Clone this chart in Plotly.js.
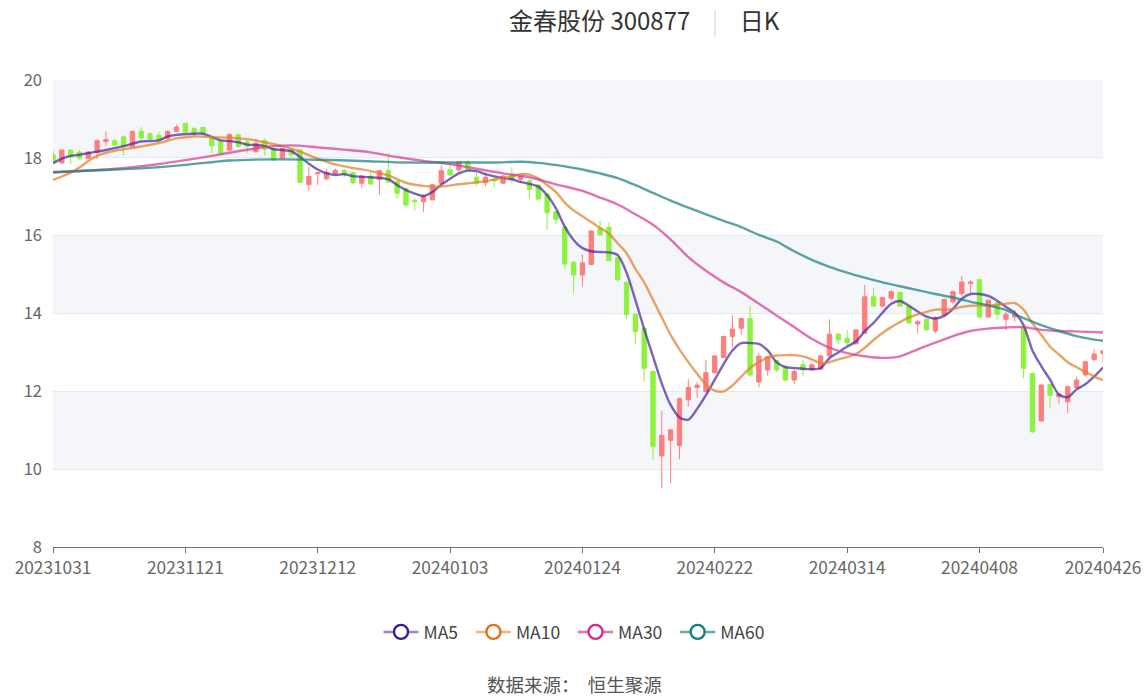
<!DOCTYPE html>
<html>
<head>
<meta charset="utf-8">
<script src="https://cdn.plot.ly/plotly-3.0.1.min.js"></script>
<style>
  html, body { margin: 0; padding: 0; background: #ffffff; }
  #chart { width: 1148px; height: 699px; }
</style>
</head>
<body>
<div id="chart"></div>
<script>
// ---- Data ----
const dates = ["20231031","20231121","20231212","20240103","20240124","20240222","20240314","20240408","20240426"];
const dateIdx = [0, 15, 30, 45, 60, 75, 90, 105, 119];

const openP = [18.08,17.87,18.20,18.15,17.99,18.14,18.42,18.44,18.54,18.29,
  18.68,18.62,18.58,18.50,18.68,18.89,18.75,18.78,18.53,18.43,
  18.20,18.59,18.41,18.16,18.44,18.24,17.99,18.22,18.20,17.31,
  17.59,17.46,17.60,17.68,17.62,17.35,17.53,17.44,17.67,17.39,
  17.21,16.91,16.87,16.92,17.35,17.69,17.69,17.90,17.50,17.36,
  17.45,17.35,17.58,17.45,17.41,17.30,17.07,16.62,16.22,15.32,
  14.99,15.26,16.20,16.21,15.44,14.80,13.98,13.62,12.51,10.34,
  10.74,10.61,11.78,12.10,11.99,12.48,12.87,13.41,13.62,13.87,
  12.24,12.55,12.79,12.63,12.29,12.68,12.55,12.57,12.91,13.47,
  13.36,13.22,13.49,14.43,14.19,14.39,14.54,14.18,13.73,13.85,
  13.55,13.96,14.30,14.51,14.77,14.87,13.91,14.27,13.85,13.91,
  13.66,12.46,11.24,12.18,11.86,11.73,12.10,12.42,12.82,12.97];
const highP = [18.20,18.22,18.22,18.20,18.17,18.47,18.68,18.49,18.57,18.68,
  18.79,18.66,18.66,18.71,18.85,18.89,18.79,18.81,18.55,18.46,
  18.63,18.63,18.46,18.50,18.50,18.27,18.26,18.25,18.22,17.77,
  17.62,17.71,17.72,17.72,17.65,17.56,17.64,17.69,18.12,17.41,
  17.25,16.98,17.05,17.33,17.81,17.86,17.92,17.94,17.62,17.62,
  17.52,17.56,17.76,17.54,17.45,17.32,17.09,16.63,16.24,15.34,
  15.52,16.13,16.38,16.34,15.44,14.82,14.00,13.65,12.53,11.50,
  11.03,11.84,12.31,12.24,12.81,12.93,13.43,13.96,13.90,14.20,
  12.98,12.90,12.82,12.68,12.56,12.80,12.72,12.94,13.85,13.49,
  13.57,13.60,14.73,14.65,14.43,14.60,14.57,14.20,13.84,13.87,
  13.93,14.39,14.59,14.96,14.86,14.87,14.36,14.30,14.04,14.09,
  13.70,12.48,12.18,12.21,11.95,12.14,12.38,12.79,13.08,13.06];
const lowP = [17.85,17.84,17.84,17.95,17.97,17.97,18.30,18.30,18.06,18.26,
  18.45,18.47,18.40,18.46,18.66,18.64,18.55,18.59,18.12,18.07,
  18.17,18.27,18.12,18.12,18.05,17.93,17.99,18.03,17.36,17.14,
  17.31,17.42,17.56,17.50,17.33,17.24,17.30,17.06,17.36,16.94,
  16.73,16.64,16.61,16.92,17.31,17.53,17.63,17.67,17.28,17.26,
  17.25,17.33,17.35,17.35,16.96,16.94,16.16,16.30,15.15,14.53,
  14.70,15.24,16.00,15.36,14.82,13.86,13.21,12.27,10.24,9.52,
  9.64,10.25,11.61,11.84,11.97,12.46,12.86,13.15,13.45,12.40,
  12.10,12.40,12.50,12.27,12.19,12.40,12.53,12.55,12.88,13.22,
  13.19,13.20,13.47,14.17,14.17,14.33,14.17,13.74,13.49,13.56,
  13.49,13.94,14.24,14.44,14.51,13.89,13.89,13.83,13.57,13.79,
  12.33,10.94,11.22,11.56,11.68,11.45,12.07,12.38,12.76,12.72];
const closeP = [17.90,18.20,18.04,17.99,18.15,18.44,18.47,18.33,18.30,18.68,
  18.51,18.49,18.45,18.68,18.79,18.66,18.61,18.64,18.31,18.10,
  18.60,18.29,18.30,18.37,18.22,17.94,18.24,18.08,17.37,17.52,
  17.62,17.63,17.68,17.58,17.36,17.53,17.33,17.67,17.38,17.09,
  16.79,16.87,17.01,17.31,17.67,17.56,17.90,17.69,17.35,17.50,
  17.41,17.53,17.45,17.52,17.19,16.94,16.59,16.42,15.27,14.99,
  15.30,16.12,16.02,15.36,14.87,13.98,13.53,12.59,10.58,10.87,
  11.01,11.81,12.10,12.16,12.48,12.91,13.41,13.60,13.87,12.42,
  12.90,12.89,12.55,12.29,12.51,12.55,12.68,12.91,13.47,13.32,
  13.25,13.58,14.43,14.19,14.41,14.56,14.19,13.76,13.79,13.58,
  13.88,14.36,14.56,14.81,14.81,13.91,14.34,13.98,13.98,13.98,
  12.59,10.96,12.16,11.90,11.93,12.12,12.29,12.76,12.96,13.04];

const ma5Idx = [0,1,2,3,4,5,6,8,10,12,13,14,16,17,18,19,20,21,22,23,24,25,26,27,28,29,30,31,32,33,34,36,38,39,40,41,42,43,44,45,46,47,48,49,51,52,53,55,56,57,58,59,60,61,62,63,64,65,66,67,68,69,70,71,72,73,74,75,76,77,78,79,80,81,82,83,84,85,86,87,88,89,90,91,92,93,94,95,96,97,98,99,100,101,102,103,104,105,106,107,108,109,110,111,112,113,114,115,116,117,118,119];
const ma5Val = [17.86,17.98,18.05,18.08,18.12,18.16,18.20,18.30,18.42,18.45,18.55,18.59,18.62,18.62,18.54,18.45,18.43,18.40,18.34,18.33,18.30,18.22,18.20,18.17,18.02,17.85,17.70,17.60,17.56,17.58,17.53,17.50,17.45,17.30,17.17,17.08,17.02,17.12,17.31,17.46,17.60,17.67,17.66,17.58,17.48,17.45,17.38,17.26,17.04,16.70,16.23,15.89,15.68,15.60,15.58,15.57,15.50,15.05,14.35,13.60,12.90,12.20,11.65,11.33,11.27,11.55,11.90,12.30,12.70,13.05,13.24,13.24,13.22,13.05,12.75,12.62,12.60,12.58,12.57,12.60,12.85,13.00,13.15,13.28,13.55,13.76,14.02,14.25,14.32,14.20,14.05,13.92,13.87,13.94,14.12,14.38,14.50,14.50,14.45,14.33,14.17,14.02,13.70,13.05,12.65,12.30,11.92,11.85,12.05,12.18,12.38,12.61];

const ma10Idx = [0,1,2,3,4,5,6,8,10,12,14,16,18,20,22,24,26,28,30,32,34,36,38,40,42,44,46,48,50,52,53,54,55,56,57,58,59,60,61,62,63,64,65,66,67,68,69,70,71,72,73,74,75,76,77,78,79,80,81,82,83,84,85,86,87,88,89,90,91,92,93,94,95,96,97,98,99,100,101,102,103,104,105,106,107,108,109,110,111,112,113,114,115,116,117,118,119];
const ma10Val = [17.43,17.52,17.62,17.75,17.92,18.05,18.13,18.22,18.29,18.38,18.50,18.55,18.53,18.52,18.48,18.40,18.30,18.16,17.98,17.83,17.74,17.66,17.55,17.36,17.28,17.26,17.32,17.37,17.44,17.52,17.58,17.57,17.47,17.30,17.12,16.85,16.65,16.50,16.35,16.20,16.05,15.80,15.55,15.15,14.80,14.35,13.90,13.45,13.08,12.75,12.45,12.18,12.02,12.00,12.15,12.38,12.60,12.75,12.87,12.92,12.93,12.93,12.90,12.82,12.72,12.75,12.82,12.88,12.96,13.12,13.32,13.50,13.65,13.78,13.90,13.98,14.04,14.10,14.10,14.12,14.17,14.20,14.21,14.20,14.22,14.25,14.27,14.10,13.75,13.45,13.15,12.95,12.75,12.62,12.50,12.38,12.29];

const ma30Idx = [0,3,6,9,12,15,18,21,24,27,30,33,36,39,42,45,48,51,54,57,60,62,64,66,68,70,72,74,76,78,80,82,84,86,88,90,92,94,96,98,100,102,104,106,108,110,112,114,116,119];
const ma30Val = [17.63,17.66,17.70,17.76,17.84,17.94,18.05,18.17,18.28,18.32,18.27,18.21,18.14,18.02,17.92,17.84,17.72,17.60,17.50,17.32,17.15,16.98,16.80,16.55,16.28,15.90,15.45,15.10,14.80,14.55,14.25,13.95,13.65,13.35,13.12,12.98,12.90,12.86,12.90,13.08,13.25,13.42,13.55,13.61,13.64,13.65,13.58,13.55,13.54,13.51];

const ma60Idx = [0,5,10,15,20,25,30,35,40,45,50,53,55,58,60,62,64,66,68,70,72,74,76,78,80,82,84,86,88,90,92,94,96,98,100,102,104,106,108,110,112,114,116,118,119];
const ma60Val = [17.63,17.68,17.73,17.82,17.93,17.96,17.95,17.92,17.88,17.88,17.88,17.90,17.87,17.78,17.70,17.60,17.48,17.30,17.10,16.90,16.72,16.55,16.38,16.22,16.02,15.85,15.60,15.38,15.20,15.05,14.92,14.80,14.70,14.60,14.50,14.41,14.30,14.21,14.09,13.88,13.70,13.55,13.42,13.33,13.30];

const maNames = ["MA5", "MA10", "MA30", "MA60"];
const maLineColors = ["rgba(74,40,160,0.72)", "rgba(226,128,40,0.72)", "rgba(214,60,150,0.72)", "rgba(25,128,128,0.72)"];
const maMarkColors = ["#3d1a96", "#e07416", "#d62a8e", "#177f7f"];
const maLegendLine = ["#9c82cf", "#f0b07a", "#e470b8", "#5fb0b0"];

const bands = [[18, 20], [14, 16], [10, 12]];

const FONT = '"Noto Sans CJK SC", "Noto Sans", sans-serif';

const idx = closeP.map((_, i) => i);

const traces = [];
traces.push({
  type: 'candlestick',
  x: idx, open: openP, high: highP, low: lowP, close: closeP,
  increasing: { line: { color: '#ff7d7d', width: 1 }, fillcolor: '#ff7d7d' },
  decreasing: { line: { color: '#8cf23e', width: 1 }, fillcolor: '#8cf23e' },
  whiskerwidth: 0,
  showlegend: false,
  hoverinfo: 'skip'
});

const maIdx = [ma5Idx, ma10Idx, ma30Idx, ma60Idx];
const maVal = [ma5Val, ma10Val, ma30Val, ma60Val];
for (let k = 0; k < 4; k++) {
  traces.push({
    type: 'scatter', mode: 'lines',
    x: maIdx[k], y: maVal[k],
    line: { color: maLineColors[k], width: 2.4, shape: 'spline', smoothing: 0.8 },
    showlegend: false, hoverinfo: 'skip'
  });
}
for (let k = 0; k < 4; k++) {
  traces.push({
    type: 'scatter', mode: 'lines+markers',
    x: [null], y: [null], name: maNames[k] + '\u00a0\u00a0',
    line: { color: maLegendLine[k], width: 2.5 },
    marker: { symbol: 'circle', size: 14, color: '#ffffff', line: { color: maMarkColors[k], width: 2.4 } },
    showlegend: true
  });
}

const shapes = bands.map(b => ({
  type: 'rect', xref: 'paper', yref: 'y', x0: 0, x1: 1, y0: b[0], y1: b[1],
  fillcolor: '#f5f6fa', line: { width: 0 }, layer: 'below'
}));

const layout = {
  width: 1148, height: 699,
  margin: { l: 53, r: 45, t: 80, b: 152 },
  paper_bgcolor: '#ffffff', plot_bgcolor: '#ffffff',
  font: { family: FONT, color: '#666666', size: 16 },
  title: {
    text: '金春股份 300877<span style="color:#e3e3e3">\u00a0\u00a0\u00a0\u00a0|\u00a0\u00a0\u00a0\u00a0</span>日K',
    font: { family: FONT, size: 24, color: '#333333' },
    xref: 'container', yref: 'container', x: 509 / 1148, xanchor: 'left', y: 1 - 22 / 699, yanchor: 'middle'
  },
  xaxis: {
    range: [0, 119], type: 'linear',
    tickvals: dateIdx, ticktext: dates,
    showgrid: false, zeroline: false,
    showline: true, linecolor: '#6e7079', linewidth: 1,
    ticks: 'outside', ticklen: 5, tickcolor: '#6e7079',
    tickfont: { family: FONT, size: 17.3, color: '#666666' },
    rangeslider: { visible: false },
    fixedrange: true
  },
  yaxis: {
    range: [8, 20], dtick: 2, tick0: 8,
    showgrid: true, gridcolor: '#e4e8f0', gridwidth: 1,
    zeroline: false, showline: false, ticks: '',
    tickfont: { family: FONT, size: 16.5, color: '#666666' },
    ticklabelstandoff: 10,
    fixedrange: true
  },
  shapes: shapes,
  showlegend: true,
  legend: {
    orientation: 'h', x: (578 - 53) / 1050, xanchor: 'center', y: -(632 - 547) / 467, yanchor: 'middle',
    font: { family: FONT, size: 17.5, color: '#444444' },
    itemwidth: 35, bgcolor: 'rgba(0,0,0,0)'
  },
  annotations: [{
    xref: 'paper', yref: 'paper', x: (574.5 - 53) / 1050, y: -(684 - 547) / 467,
    xanchor: 'center', yanchor: 'middle', showarrow: false,
    text: '数据来源：\u00a0\u00a0恒生聚源',
    font: { family: FONT, size: 18.5, color: '#555555' }
  }]
};

Plotly.newPlot('chart', traces, layout, { displayModeBar: false, staticPlot: true });
</script>
</body>
</html>
